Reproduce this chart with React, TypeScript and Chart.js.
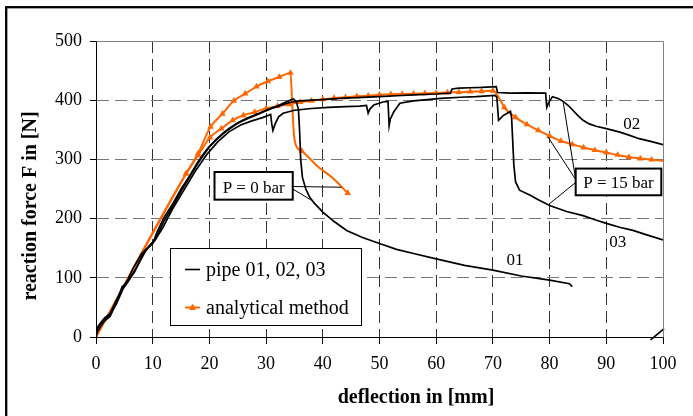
import React, { useEffect, useRef } from 'react';
import { Chart, registerables } from 'chart.js';

Chart.register(...registerables);

// ---------- data ----------
const xTicks = [0, 10, 20, 30, 40, 50, 60, 70, 80, 90, 100];
const yTicks = [0, 100, 200, 300, 400, 500];

const pipe01X = [0, 0.2, 1.2, 2.4, 3.6, 4.8, 5.6, 6.8, 7.7, 8.9, 10, 10.8, 12, 13.6, 15, 16.5, 18, 19, 20, 21.2, 22.5, 23.6, 25, 26.5, 28, 29.5, 31, 32, 33, 34.2, 34.8, 35.3, 35.7, 35.9, 36.1, 36.4, 37, 37.7, 38.5, 40, 42, 44.2, 47, 50, 53, 56, 60, 65, 70, 75, 80, 83.5, 84];
const pipe01Y = [0, 14, 28, 37, 56, 82, 93, 110, 127, 148, 158, 178, 202, 226, 250, 272, 296, 310, 322, 334, 345, 353, 362, 369, 375, 381, 387, 390, 395, 400, 402, 398, 385, 350, 300, 270, 250, 236, 226, 211, 195, 180, 168, 158, 148, 141, 132, 121, 113, 103, 96, 90, 85];

const pipe01EndX = [97.8, 100.2];
const pipe01EndY = [-5, 14];

const pipe02X = [0, 0.3, 1.3, 2.5, 3.8, 4.6, 5.5, 7, 8.2, 9.5, 10.5, 12, 13.6, 15, 16.5, 18, 19, 20, 21.2, 22.5, 23.6, 25, 26.5, 28, 29.5, 31, 32, 33, 34.5, 35.5, 36, 38, 40, 43, 46, 50, 53, 56, 60, 62.5, 62.8, 64, 66, 68, 70.6, 70.8, 73, 76, 79.3, 79.5, 79.8, 80.5, 81.5, 82.4, 83.3, 84.1, 85, 85.9, 87, 88.2, 90, 92.4, 94, 95.8, 98, 100];
const pipe02Y = [0, 10, 25, 35, 62, 85, 92, 115, 138, 155, 166, 196, 222, 246, 270, 294, 308, 321, 333, 344, 352, 361, 368, 374, 380, 386, 389, 393, 397, 398, 399, 400, 401, 403, 404.5, 406, 407.5, 409, 410.5, 412, 419, 420.5, 421, 421.5, 423, 413, 412, 412.5, 412, 388, 395, 406, 403, 398, 391, 383, 374, 366, 360, 356, 352, 346, 341, 335, 330, 325];

const pipe03X = [0, 0.5, 1.5, 2.5, 3.5, 4.5, 5.5, 6.5, 8, 9.2, 10.3, 11.8, 13.6, 15.5, 17.5, 19.5, 21.5, 23.5, 25.5, 27.5, 29.5, 30.8, 31.0, 31.2, 31.6, 32.2, 33, 35, 38, 41, 44, 46.5, 47.7, 48.0, 48.3, 49, 50.6, 51.5, 51.7, 51.9, 52.5, 53.6, 56, 60.8, 64.3, 67, 70.4, 70.7, 71.0, 71.8, 73.1, 73.3, 73.5, 73.7, 74.0, 74.7, 76.5, 78, 80, 83, 85.9, 88, 90, 92.5, 94.7, 97, 100];
const pipe03Y = [10, 20, 32, 40, 60, 80, 95, 115, 140, 152, 162, 185, 218, 248, 280, 308, 330, 347, 358, 365, 371, 376, 360, 349, 360, 372, 378, 383, 386, 388, 389, 390, 391, 378, 385, 392, 397, 398, 357, 368, 380, 395, 399, 403, 405, 406, 408, 405, 366, 374, 381, 370, 330, 290, 262, 248, 240, 232, 222, 212, 205, 198, 192, 185, 180, 173, 164];

// analytical method, P = 0 bar
const anaZeroX = [0, 15.9, 18, 20.2, 22.3, 24.3, 26.3, 28.3, 30.3, 32.3, 34.3, 34.6, 34.9, 35.4, 36.3, 39, 41.8, 44.4];
const anaZeroY = [0, 276, 310, 355, 377, 399, 411, 423, 432, 439, 446, 395, 343, 321, 314, 289, 268, 243];
const anaZeroMarked = [1, 1, 1, 1, 1, 1, 1, 1, 1, 1, 1, 0, 0, 0, 1, 0, 0, 1];

// analytical method, P = 15 bar
const anaFifteenX = [0, 15.9, 18, 20.1, 22.1, 24.1, 26, 28, 30, 32, 34, 36, 38, 40, 42, 44, 46, 48, 50, 52, 54, 56, 58, 60, 62, 64, 66, 68, 70, 71.2, 72, 74, 76, 78, 80, 82, 84, 86, 88, 90, 92, 94, 96, 98, 100];
const anaFifteenY = [0, 276, 307, 337, 352, 366, 374.5, 380, 386, 390, 393, 397, 399, 401.5, 403.5, 405, 406.5, 407.5, 409, 410, 410.5, 411, 411.5, 412, 413, 413.5, 414.5, 415, 416, 402, 388, 371, 359, 349, 339.5, 331, 325.5, 320, 315.5, 311.5, 307.5, 304, 301.5, 299.5, 297.5];
const anaFifteenMarked = [1, 1, 1, 1, 1, 1, 1, 1, 1, 1, 1, 1, 1, 1, 1, 1, 1, 1, 1, 1, 1, 1, 1, 1, 1, 1, 1, 1, 1, 0, 1, 1, 1, 1, 1, 1, 1, 1, 1, 1, 1, 1, 1, 1, 0];

const legendLabels = ['pipe 01, 02, 03', 'analytical method'];
const curveLabels = ['01', '02', '03'];
const curveLabelX = [73.9, 94.5, 92];
const curveLabelY = [128.7, 359, 159];

const xTitle = 'deflection in [mm]';
const yTitle = 'reaction force F in [N]';

const ORANGE = '#ff6600';
const FONT = '"Liberation Serif", "Times New Roman", serif';

const toPts = (xs: number[], ys: number[]) => xs.map((x, i) => ({ x, y: ys[i] }));

const decorPlugin = {
  id: 'decor',
  afterDraw(chart: any) {
    const ctx = chart.ctx as CanvasRenderingContext2D;
    const xs = chart.scales.x;
    const ys = chart.scales.y;
    const X = (v: number) => xs.getPixelForValue(v);
    const Y = (v: number) => ys.getPixelForValue(v);
    const ca = chart.chartArea;
    ctx.save();

    // plot area top/right grey frame
    ctx.strokeStyle = '#808080';
    ctx.lineWidth = 1;
    ctx.beginPath();
    ctx.moveTo(Math.round(ca.left) + 0.5, Math.round(ca.top) + 0.5);
    ctx.lineTo(Math.round(ca.right) + 0.5, Math.round(ca.top) + 0.5);
    ctx.lineTo(Math.round(ca.right) + 0.5, Math.round(ca.bottom) + 0.5);
    ctx.stroke();

    // outer frame
    ctx.strokeStyle = '#000';
    ctx.lineWidth = 2.3;
    ctx.strokeRect(6.2, 7.2, 720, 440);

    // axis titles
    ctx.fillStyle = '#000';
    ctx.font = `bold 20px ${FONT}`;
    ctx.textAlign = 'center';
    ctx.textBaseline = 'alphabetic';
    ctx.fillText(xTitle, 416, 403);
    ctx.save();
    ctx.translate(36, 206);
    ctx.rotate(-Math.PI / 2);
    ctx.fillText(yTitle, 0, 0);
    ctx.restore();

    // legend
    ctx.fillStyle = '#fff';
    ctx.fillRect(170.5, 248.5, 191, 77);
    ctx.strokeStyle = '#000';
    ctx.lineWidth = 1;
    ctx.strokeRect(170.5, 248.5, 191, 77);
    ctx.beginPath();
    ctx.moveTo(185, 269.5);
    ctx.lineTo(200, 269.5);
    ctx.lineWidth = 1.6;
    ctx.stroke();
    ctx.strokeStyle = ORANGE;
    ctx.lineWidth = 2;
    ctx.beginPath();
    ctx.moveTo(185, 307.5);
    ctx.lineTo(200, 307.5);
    ctx.stroke();
    ctx.fillStyle = ORANGE;
    ctx.beginPath();
    ctx.moveTo(192.5, 303.5);
    ctx.lineTo(196, 310);
    ctx.lineTo(189, 310);
    ctx.closePath();
    ctx.fill();
    ctx.fillStyle = '#000';
    ctx.font = `20px ${FONT}`;
    ctx.textAlign = 'left';
    ctx.fillText(legendLabels[0], 206, 276);
    ctx.fillText(legendLabels[1], 206, 314);

    // curve labels
    ctx.font = `17px ${FONT}`;
    ctx.textAlign = 'center';
    ctx.textBaseline = 'middle';
    curveLabels.forEach((t, i) => ctx.fillText(t, X(curveLabelX[i]), Y(curveLabelY[i])));

    // annotation leader lines
    ctx.strokeStyle = '#000';
    ctx.lineWidth = 1;
    ctx.beginPath();
    ctx.moveTo(X(34.7), Y(channelY(186.5, ys)));
    ctx.lineTo(X(43.3), Y(253));
    ctx.moveTo(X(34.7), Y(channelY(189, ys)));
    ctx.lineTo(X(38), Y(231));
    ctx.moveTo(X(84.6), Y(266));
    ctx.lineTo(X(82.4), Y(396.5));
    ctx.moveTo(X(84.6), Y(266));
    ctx.lineTo(X(79.7), Y(338));
    ctx.moveTo(X(84.6), Y(261));
    ctx.lineTo(X(80), Y(225.3));
    ctx.stroke();

    const box = (x0: number, x1: number, y0: number, y1: number, t: string) => {
      const l = X(x0), r = X(x1), tp = Y(y0), b = Y(y1);
      ctx.fillStyle = '#fff';
      ctx.fillRect(l, tp, r - l, b - tp);
      ctx.strokeStyle = '#000';
      ctx.lineWidth = 2;
      ctx.strokeRect(l, tp, r - l, b - tp);
      ctx.fillStyle = '#000';
      ctx.font = `17px ${FONT}`;
      ctx.textAlign = 'center';
      ctx.textBaseline = 'alphabetic';
      ctx.fillText(t, (l + r) / 2, b - 7);
    };
    box(20.9, 34.7, 278.7, 232, 'P = 0 bar');
    box(84.6, 99.7, 284.5, 239.4, 'P = 15 bar');
    ctx.restore();
  },
};

function channelY(py: number, ys: any) {
  return ys.getValueForPixel(py);
}

export default function App() {
  const ref = useRef<HTMLCanvasElement>(null);
  useEffect(() => {
    if (!ref.current) return;
    const black = (data: any, extra: any = {}) => ({
      data,
      borderColor: '#000',
      backgroundColor: '#000',
      borderWidth: 1.7,
      pointRadius: 0,
      tension: 0,
      ...extra,
    });
    const orange = (data: any, marks: number[]) => ({
      data,
      borderColor: ORANGE,
      backgroundColor: ORANGE,
      borderWidth: 2,
      cubicInterpolationMode: 'monotone',
      pointStyle: 'triangle',
      pointRadius: marks.map((m) => (m ? 3.8 : 0)),
      pointBorderWidth: 0,
    });
    const chart = new Chart(ref.current, {
      type: 'line',
      data: {
        datasets: [
          black(toPts(pipe01X, pipe01Y)),
          black(toPts(pipe02X, pipe02Y)),
          black(toPts(pipe03X, pipe03Y)),
          black(toPts(pipe01EndX, pipe01EndY), { clip: 5 }),
          orange(toPts(anaZeroX, anaZeroY), anaZeroMarked),
          orange(toPts(anaFifteenX, anaFifteenY), anaFifteenMarked),
        ] as any,
      },
      options: {
        responsive: false,
        animation: false,
        devicePixelRatio: 1,
        events: [],
        layout: { padding: { top: 41, right: 30, left: 0, bottom: 0 } },
        plugins: { legend: { display: false }, tooltip: { enabled: false } },
        scales: {
          x: {
            type: 'linear',
            min: 0,
            max: 100,
            afterFit: (s: any) => { s.height = 79; },
            afterBuildTicks: (s: any) => { s.ticks = xTicks.map((v) => ({ value: v })); },
            ticks: { color: '#000', font: { family: FONT, size: 18 }, padding: 9, maxRotation: 0 },
            grid: {
              color: (c: any) => (c.tick && (c.tick.value === 0 || c.tick.value === 100) ? 'rgba(0,0,0,0)' : '#333'),
              tickColor: '#000',
              tickLength: 7,
              tickBorderDash: [],
            },
            border: { display: true, color: '#000', width: 1, dash: [12, 6] },
          },
          y: {
            type: 'linear',
            min: 0,
            max: 500,
            afterFit: (s: any) => { s.width = 96; },
            afterBuildTicks: (s: any) => { s.ticks = yTicks.map((v) => ({ value: v })); },
            ticks: { color: '#000', font: { family: FONT, size: 18 }, padding: 8 },
            grid: {
              color: (c: any) => (c.tick && (c.tick.value === 0 || c.tick.value === 500) ? 'rgba(0,0,0,0)' : '#777'),
              tickColor: '#000',
              tickLength: 6,
              tickBorderDash: [],
            },
            border: { display: true, color: '#000', width: 1, dash: [12, 6] },
          },
        },
      } as any,
      plugins: [decorPlugin],
    });
    return () => chart.destroy();
  }, []);
  return (
    <div style={{ position: 'fixed', left: 0, top: 0, width: 693, height: 416, background: '#fff' }}>
      <canvas ref={ref} width={693} height={416} />
    </div>
  );
}
